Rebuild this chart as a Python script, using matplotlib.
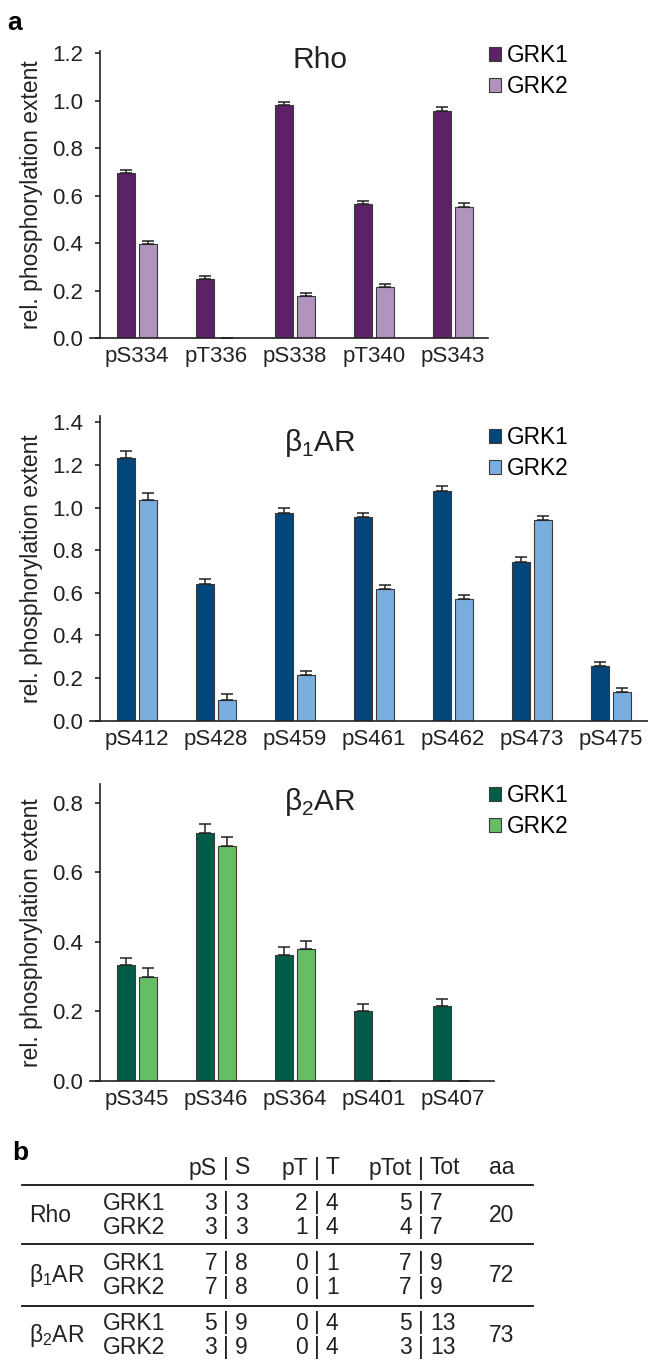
import numpy as np
import matplotlib
matplotlib.use("Agg")
import matplotlib.pyplot as plt
from matplotlib.patches import Patch
from matplotlib.lines import Line2D

plt.rcParams['font.family'] = ['Liberation Sans', 'DejaVu Sans']
plt.rcParams['mathtext.fontset'] = 'custom'
plt.rcParams['mathtext.rm'] = 'Liberation Sans'

# ---- data ----
rho_sites = ['pS334', 'pT336', 'pS338', 'pT340', 'pS343']
rho_grk1 = [0.696, 0.249, 0.981, 0.567, 0.957]
rho_grk1_err = [0.013, 0.011, 0.014, 0.010, 0.015]
rho_grk2 = [0.397, np.nan, 0.177, 0.214, 0.554]
rho_grk2_err = [0.014, 0.0, 0.014, 0.014, 0.014]

b1_sites = ['pS412', 'pS428', 'pS459', 'pS461', 'pS462', 'pS473', 'pS475']
b1_grk1 = [1.234, 0.642, 0.976, 0.955, 1.080, 0.744, 0.255]
b1_grk1_err = [0.033, 0.024, 0.020, 0.021, 0.021, 0.025, 0.021]
b1_grk2 = [1.035, 0.097, 0.213, 0.617, 0.570, 0.940, 0.133]
b1_grk2_err = [0.033, 0.027, 0.020, 0.022, 0.020, 0.023, 0.019]

b2_sites = ['pS345', 'pS346', 'pS364', 'pS401', 'pS407']
b2_grk1 = [0.332, 0.715, 0.362, 0.201, 0.214]
b2_grk1_err = [0.022, 0.026, 0.022, 0.020, 0.022]
b2_grk2 = [0.300, 0.675, 0.379, np.nan, np.nan]
b2_grk2_err = [0.024, 0.027, 0.024, 0.0, 0.0]

# table b
receptors = ['Rho', 'β$_\\mathregular{1}$AR', 'β$_\\mathregular{2}$AR']
kinases = ['GRK1', 'GRK2']
pS_count = [[3, 3], [7, 7], [5, 3]]
S_count = [3, 8, 9]
pT_count = [[2, 1], [0, 0], [0, 0]]
T_count = [4, 1, 4]
pTot_count = [[5, 4], [7, 7], [5, 3]]
Tot_count = [7, 9, 13]
aa_count = [20, 72, 73]

W, H = 648, 1360
fig = plt.figure(figsize=(W / 100, H / 100), dpi=100)
ink = '#222222'


def px_box(left, top, right, bottom):
    return [left / W, 1 - bottom / H, (right - left) / W, (bottom - top) / H]


def bar_panel(box, sites, v1, e1, v2, e2, c1, c2, ymax, yticks, title, title_y, leg_y):
    ax = fig.add_axes(box)
    x = np.arange(len(sites))
    w = 0.235
    ekw = dict(ecolor=ink, elinewidth=1.1, capthick=1.1)
    ax.bar(x - 0.14, v1, w, color=c1, edgecolor='#3a3a3a', linewidth=0.8,
           yerr=[np.zeros(len(v1)), e1], capsize=4, error_kw=ekw, zorder=2)
    v2a = np.array(v2, dtype=float)
    ax.bar(x + 0.14, np.nan_to_num(v2a), w, color=c2,
           edgecolor=['#3a3a3a' if not np.isnan(v) else 'none' for v in v2a],
           linewidth=0.8, yerr=[np.zeros(len(v2)), e2], capsize=4,
           error_kw=ekw, zorder=2)
    ax.set_ylim(0, ymax)
    ax.set_yticks(yticks)
    ax.set_yticklabels(['%.1f' % t for t in yticks])
    ax.set_xticks(x)
    ax.set_xticklabels(sites)
    for s in ['top', 'right']:
        ax.spines[s].set_visible(False)
    for s in ['left', 'bottom']:
        ax.spines[s].set_linewidth(1.2)
        ax.spines[s].set_color(ink)
    ax.tick_params(axis='y', direction='out', length=3.3, width=1.2, labelsize=16, pad=8.5, colors=ink)
    ax.tick_params(axis='x', length=0, labelsize=16, pad=6, colors=ink)
    # short stub of the x axis left of the y axis
    wpx = box[2] * W
    ax.add_line(Line2D([-10 / wpx, 0], [0, 0], transform=ax.transAxes,
                       color=ink, linewidth=1.2, clip_on=False))
    fig.text(320 / W, 1 - title_y / H, title, fontsize=21.5, ha='center', va='center', color=ink)
    handles = [Patch(facecolor=c1, edgecolor='#3a3a3a', linewidth=0.8, label='GRK1'),
               Patch(facecolor=c2, edgecolor='#3a3a3a', linewidth=0.8, label='GRK2')]
    ax.legend(handles=handles, loc='upper left', bbox_to_anchor=(489 / W, 1 - leg_y / H),
              bbox_transform=fig.transFigure, frameon=False, fontsize=16.3,
              handlelength=0.55, handleheight=0.55, handletextpad=0.25,
              labelspacing=0.35, borderpad=0, borderaxespad=0)
    cy = box[1] + box[3] / 2
    fig.text(32 / W, cy, 'rel. phosphorylation extent', rotation=90,
             fontsize=16.5, ha='center', va='center', color=ink)
    return ax


def xlim_for(ax, left_px, right_px):
    c0, sp = 137, 79
    ax.set_xlim((left_px - c0) / sp, (right_px - c0) / sp)


ax1 = bar_panel(px_box(99.6, 51, 488, 338), rho_sites, rho_grk1, rho_grk1_err,
                rho_grk2, rho_grk2_err, '#5c2166', '#b194bd', 1.21,
                [0, 0.2, 0.4, 0.6, 0.8, 1.0, 1.2], 'Rho', 60, 44)
xlim_for(ax1, 99.6, 488)

ax2 = bar_panel(px_box(99.6, 416, 648, 720.7), b1_sites, b1_grk1, b1_grk1_err,
                b1_grk2, b1_grk2_err, '#00467b', '#7aaedf', 1.43,
                [0, 0.2, 0.4, 0.6, 0.8, 1.0, 1.2, 1.4], 'β$_\\mathregular{1}$AR', 443, 426)
xlim_for(ax2, 99.6, 648)

ax3 = bar_panel(px_box(99.6, 784, 494, 1080.7), b2_sites, b2_grk1, b2_grk1_err,
                b2_grk2, b2_grk2_err, '#005c48', '#66be64', 0.855,
                [0, 0.2, 0.4, 0.6, 0.8], 'β$_\\mathregular{2}$AR', 802, 784)
xlim_for(ax3, 99.6, 494)

fig.text(15 / W, 1 - 23 / H, 'a', fontsize=19, fontweight='bold', ha='center', va='center')
fig.text(20 / W, 1 - 1153 / H, 'b', fontsize=19, fontweight='bold', ha='center', va='center')

# ---- table b ----
tab = fig.add_axes([0, 0, 1, 1])
tab.set_xlim(0, W)
tab.set_ylim(H, 0)
tab.axis('off')

fs = 16.5
bar_x = [226, 317, 421]
aa_x = 502
gap = 9


def split_cell(xb, y, left, right):
    tab.text(xb - gap, y, left, ha='right', va='center', fontsize=fs, color=ink)
    tab.text(xb, y, '|', ha='center', va='center', fontsize=fs, color=ink)
    tab.text(xb + gap, y, right, ha='left', va='center', fontsize=fs, color=ink)


hy = 1168
split_cell(bar_x[0], hy, 'pS', 'S')
split_cell(bar_x[1], hy, 'pT', 'T')
split_cell(bar_x[2], hy, 'pTot', 'Tot')
tab.text(aa_x, hy, 'aa', ha='center', va='center', fontsize=fs, color=ink)

for ly in [1185, 1244, 1306]:
    tab.add_line(Line2D([21.6, 533], [ly, ly], color='#111111', linewidth=1.3))

for i, rec in enumerate(receptors):
    y0 = 1203 + 60 * i
    ys = [y0, y0 + 24.5]
    tab.text(29, y0 + 12.2, rec, ha='left', va='center', fontsize=fs, color=ink)
    tab.text(aa_x, y0 + 12.2, str(aa_count[i]), ha='center', va='center', fontsize=fs, color=ink)
    for k, kin in enumerate(kinases):
        tab.text(102.5, ys[k], kin, ha='left', va='center', fontsize=fs, color=ink)
        split_cell(bar_x[0], ys[k], str(pS_count[i][k]), str(S_count[i]))
        split_cell(bar_x[1], ys[k], str(pT_count[i][k]), str(T_count[i]))
        split_cell(bar_x[2], ys[k], str(pTot_count[i][k]), str(Tot_count[i]))

fig.savefig('out.png', dpi=100)
